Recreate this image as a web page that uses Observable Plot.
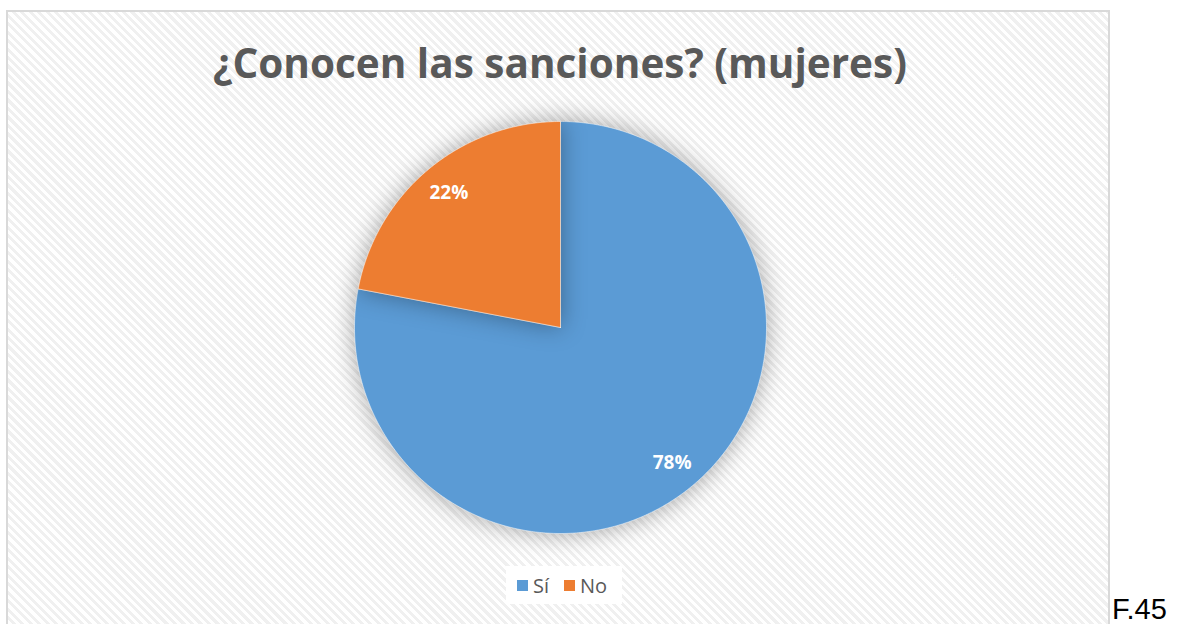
<!DOCTYPE html>
<html><head><meta charset="utf-8">
<script src="https://cdn.jsdelivr.net/npm/d3@7"></script>
<script src="https://cdn.jsdelivr.net/npm/@observablehq/plot@0.6"></script>
<style>
html,body{margin:0;padding:0;background:#fff;}
#wrap{position:relative;width:1182px;height:624px;overflow:hidden;}
#box{position:absolute;left:6px;top:10px;width:1104px;height:616px;border:2px solid #d9d9d9;box-sizing:border-box;
 background:repeating-linear-gradient(45deg,#ffffff 0px,#ffffff 3px,#f0f0f0 3px,#f0f0f0 6px);}
#title{position:absolute;left:6px;width:1108px;top:35px;text-align:center;font-family:"Open Sans",sans-serif;font-weight:700;font-size:40.5px;color:#595959;white-space:nowrap;}
#chart{position:absolute;left:0;top:0;}
#legend{position:absolute;left:506px;top:566px;width:116px;height:38px;background:#fff;font-family:"Open Sans",sans-serif;font-size:20px;color:#595959;display:flex;align-items:center;padding-left:11px;box-sizing:border-box;}
#legend .sw{display:inline-block;width:11px;height:11px;margin-right:5px;}
#legend .it{display:flex;align-items:center;margin-right:15px;}
#fig{position:absolute;left:1112px;top:593px;font-family:"Liberation Sans",Arial,sans-serif;font-size:29px;color:#000;}
#chart path.slice{filter:drop-shadow(0 0 12px rgba(0,0,0,0.35));}
</style></head>
<body><div id="wrap">
<div id="box"></div>
<div id="chart"></div>
<div id="title">¿Conocen las sanciones? (mujeres)</div>
<div id="legend"></div>
<div id="fig">F.45</div>
</div>
<script>
const categories = ["Sí", "No"];
const values = [78, 22];
const colors = ["#5b9bd5", "#ed7d31"];
const labels = ["78%", "22%"];

const pie = d3.pie().sort(null).value(d => d)(values);
const pts = [];
pie.forEach((a, i) => {
  pts.push({cat: categories[i], x: 0, y: 0});
  const n = Math.max(2, Math.ceil((a.endAngle - a.startAngle) / 0.01));
  for (let k = 0; k <= n; k++) {
    const t = a.startAngle + (a.endAngle - a.startAngle) * k / n;
    pts.push({cat: categories[i], x: Math.sin(t), y: Math.cos(t)});
  }
  pts.push({cat: categories[i], x: 0, y: 0});
});
const labelData = pie.map((a, i) => {
  const m = (a.startAngle + a.endAngle) / 2;
  return {cat: categories[i], text: labels[i], x: 0.85 * Math.sin(m), y: 0.85 * Math.cos(m)};
});

const R = 206, cx = 560, cy = 327, W = 1182, H = 624;
const plot = Plot.plot({
  width: W, height: H, margin: 0,
  x: {domain: [-cx / R, (W - cx) / R], axis: null},
  y: {domain: [-(H - cy) / R, cy / R], axis: null},
  color: {domain: categories, range: colors},
  style: {background: "transparent"},
  marks: [
    Plot.line(pts, {x: "x", y: "y", z: "cat", fill: "cat", stroke: "white", strokeWidth: 0.5, curve: "linear"}),
    Plot.text(labelData, {x: "x", y: "y", text: "text", fill: "white", fontSize: 19, fontWeight: "bold", fontFamily: "Open Sans"})
  ]
});
plot.querySelectorAll("g[aria-label='line'] path").forEach(p => p.classList.add("slice"));
document.getElementById("chart").appendChild(plot);

const leg = document.getElementById("legend");
categories.forEach((c, i) => {
  const it = document.createElement("span"); it.className = "it";
  it.innerHTML = `<span class="sw" style="background:${colors[i]}"></span>${c}`;
  leg.appendChild(it);
});
</script>
</body></html>
